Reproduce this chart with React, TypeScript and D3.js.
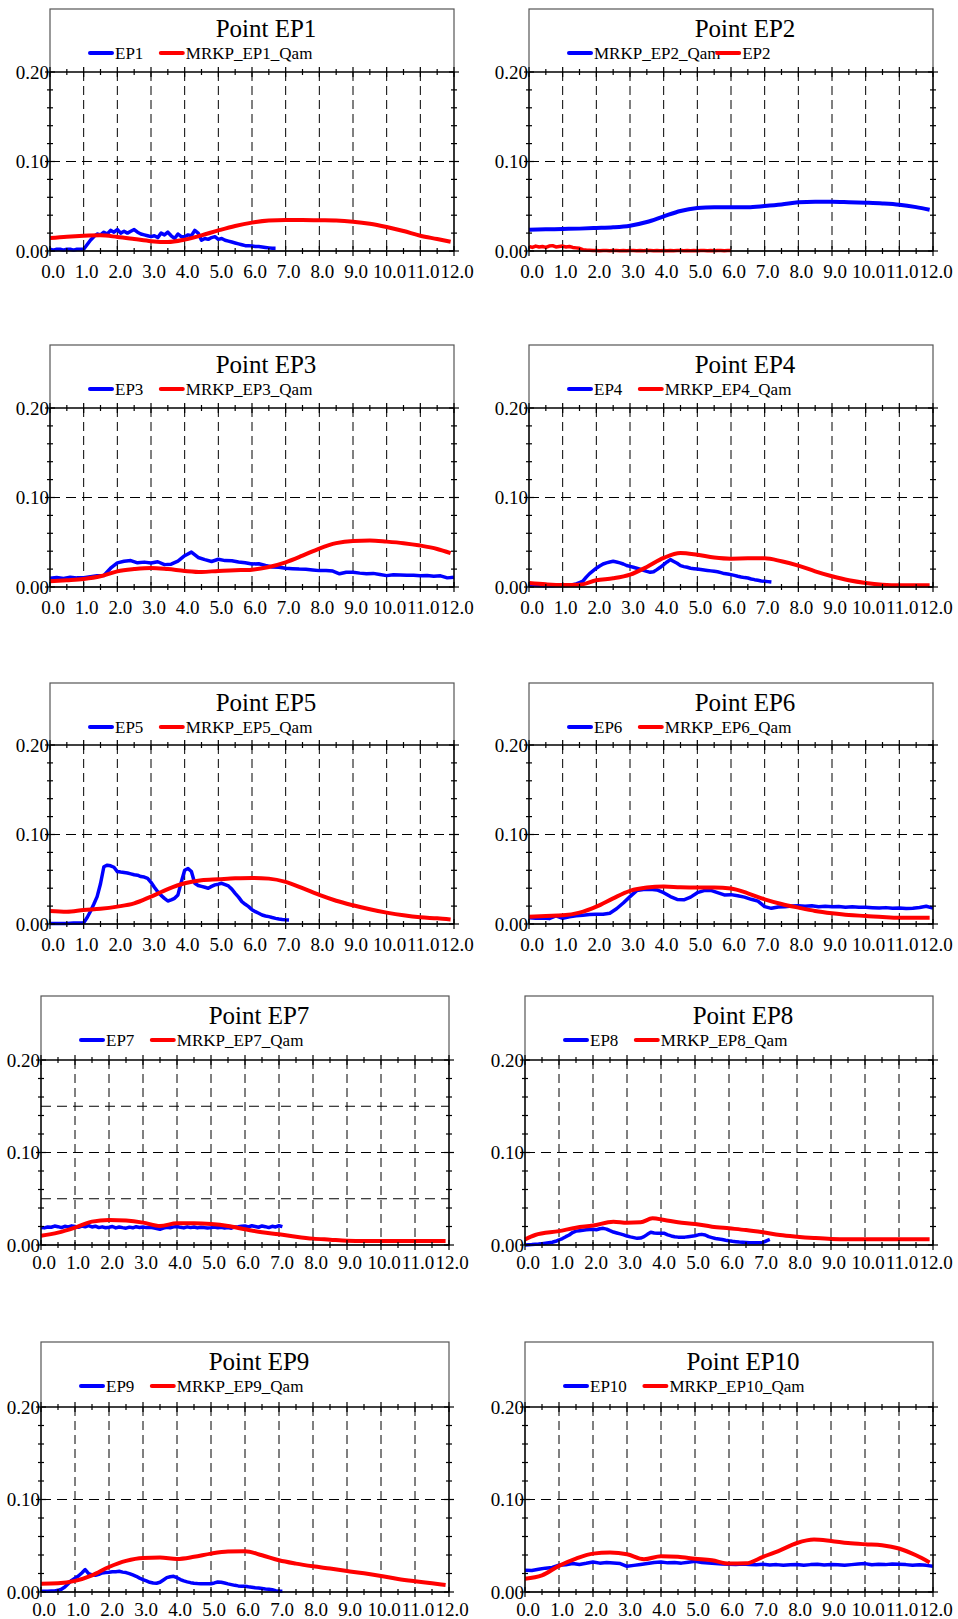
import React from 'react';
import * as d3 from 'd3';

// x grids of the series
const FINE_STEP = 0.1;
const COARSE_STEP = 0.2;
const SMOOTH_X = [0, 0.5, 1, 1.5, 2, 2.5, 3, 3.5, 4, 4.5, 5, 5.5, 6, 6.5, 7, 7.5, 8, 8.5, 9, 9.5, 10, 10.5, 11, 11.5, 11.9];

const X_LABELS = ['0.0', '1.0', '2.0', '3.0', '4.0', '5.0', '6.0', '7.0', '8.0', '9.0', '10.0', '11.0', '12.0'];
const Y_LABELS = ['0.00', '0.10', '0.20'];

// EP1
const EP1_MEAS = [
  0.002, 0.001, 0.002, 0.002, 0.001, 0.002, 0.002, 0.001, 0.002, 0.002,
  0.002, 0.007, 0.012, 0.016, 0.019, 0.018, 0.021, 0.019, 0.023, 0.021,
  0.024, 0.02, 0.022, 0.02, 0.022, 0.024, 0.021, 0.019, 0.018, 0.017,
  0.016, 0.017, 0.015, 0.02, 0.018, 0.021, 0.017, 0.014, 0.019, 0.016,
  0.016, 0.018, 0.017, 0.023, 0.02, 0.012, 0.014, 0.013, 0.015, 0.016,
  0.013, 0.014, 0.012, 0.011, 0.01, 0.009, 0.008, 0.007, 0.006, 0.006,
  0.0055, 0.005, 0.005, 0.0045, 0.004, 0.0035, 0.003, 0.003,
];
const EP1_QAM = [0.0145, 0.016, 0.017, 0.0175, 0.0157, 0.0134, 0.011, 0.01, 0.0127, 0.0175, 0.023, 0.028, 0.0317, 0.034, 0.0346, 0.0346, 0.0343, 0.034, 0.0328, 0.0305, 0.0268, 0.0223, 0.017, 0.0134, 0.0104];

// EP2 (legend order swapped in the source)
const EP2_QAM = [0.0238, 0.0242, 0.0246, 0.025, 0.0257, 0.0265, 0.0283, 0.0324, 0.0387, 0.0447, 0.048, 0.049, 0.049, 0.049, 0.0503, 0.052, 0.0544, 0.0551, 0.0551, 0.0546, 0.054, 0.0532, 0.0518, 0.049, 0.046];
const EP2_MEAS = [
  0.005, 0.004, 0.0055, 0.0045, 0.005, 0.004, 0.0055, 0.006, 0.0045, 0.005,
  0.0055, 0.0045, 0.005, 0.004, 0.0035, 0.003, 0.0015, 0.001, 0.0008, 0.0006,
  0.0005, 0.0004, 0.0006, 0.0005, 0.0003, 0.0005, 0.0006, 0.0004, 0.0005, 0.0003,
  0.0005, 0.0006, 0.0004, 0.0005, 0.0003, 0.0005, 0.0006, 0.0004, 0.0005, 0.0004,
  0.0005, 0.0003, 0.0006, 0.0004, 0.0005, 0.0005, 0.0003, 0.0006, 0.0004, 0.0005,
  0.0004, 0.0006, 0.0005, 0.0003, 0.0005, 0.0004, 0.0006, 0.0005, 0.0004, 0.0005,
  0.0005,
];

// EP3
const EP3_MEAS = [
  0.0097, 0.0105, 0.0095, 0.0108, 0.0102, 0.0104, 0.0115, 0.0125, 0.0128, 0.021,
  0.027, 0.0287, 0.0295, 0.027, 0.0278, 0.0268, 0.0282, 0.025, 0.0255, 0.029,
  0.035, 0.039, 0.033, 0.0306, 0.0285, 0.031, 0.0295, 0.0293, 0.028, 0.027,
  0.0257, 0.026, 0.024, 0.0224, 0.022, 0.021, 0.0205, 0.02, 0.0198, 0.019,
  0.0183, 0.0185, 0.0178, 0.0148, 0.0165, 0.0164, 0.0155, 0.0148, 0.0152, 0.014,
  0.0127, 0.0138, 0.0135, 0.013, 0.0132, 0.0127, 0.0128, 0.012, 0.0125, 0.0102,
  0.011,
];
const EP3_QAM = [0.0063, 0.0075, 0.009, 0.012, 0.0175, 0.02, 0.0213, 0.02, 0.018, 0.0168, 0.018, 0.0187, 0.0194, 0.0224, 0.0276, 0.035, 0.043, 0.049, 0.0515, 0.0519, 0.0507, 0.049, 0.0463, 0.0425, 0.0378];

// EP4
const EP4_MEAS = [
  0.0026, 0.0022, 0.002, 0.0018, 0.0016, 0.0015, 0.0015, 0.0015, 0.0016, 0.0016,
  0.0016, 0.0018, 0.002, 0.0025, 0.0035, 0.005, 0.0065, 0.011, 0.015, 0.018,
  0.021, 0.0235, 0.0257, 0.027, 0.028, 0.0287, 0.028, 0.027, 0.0257, 0.024,
  0.023, 0.022, 0.021, 0.02, 0.0187, 0.0175, 0.0164, 0.017, 0.0194, 0.022,
  0.025, 0.028, 0.0306, 0.0285, 0.0265, 0.0239, 0.0228, 0.022, 0.021, 0.0205,
  0.02, 0.0195, 0.019, 0.0185, 0.018, 0.0175, 0.017, 0.016, 0.015, 0.0145,
  0.0138, 0.013, 0.012, 0.0112, 0.0105, 0.01, 0.009, 0.0082, 0.0075, 0.0068,
  0.0063, 0.006, 0.0056,
];
const EP4_QAM = [0.0045, 0.003, 0.0022, 0.0026, 0.0075, 0.0097, 0.0138, 0.0224, 0.0325, 0.038, 0.036, 0.033, 0.0317, 0.032, 0.032, 0.0287, 0.0239, 0.0175, 0.012, 0.0075, 0.0045, 0.0026, 0.0019, 0.0019, 0.0019];

// EP5
const EP5_MEAS = [
  0.0005, 0.0005, 0.0006, 0.0005, 0.0005, 0.0006, 0.0008, 0.001, 0.001, 0.0012,
  0.0015, 0.007, 0.014, 0.022, 0.0306, 0.045, 0.064, 0.0657, 0.065, 0.0634,
  0.0586, 0.058, 0.0575, 0.057, 0.056, 0.055, 0.0545, 0.053, 0.0525, 0.051,
  0.0466, 0.041, 0.036, 0.032, 0.0287, 0.0257, 0.027, 0.0287, 0.0325, 0.047,
  0.06, 0.062, 0.0586, 0.0455, 0.043, 0.042, 0.041, 0.04, 0.042, 0.0437,
  0.0445, 0.0455, 0.044, 0.0425, 0.039, 0.0343, 0.03, 0.025, 0.022, 0.0194,
  0.016, 0.0138, 0.012, 0.01, 0.009, 0.0082, 0.0072, 0.0063, 0.0055, 0.005,
  0.0047, 0.0045,
];
const EP5_QAM = [0.0146, 0.0138, 0.0157, 0.017, 0.0194, 0.023, 0.0306, 0.039, 0.0455, 0.049, 0.05, 0.051, 0.0515, 0.0507, 0.047, 0.04, 0.0325, 0.026, 0.0209, 0.0164, 0.0127, 0.0097, 0.0075, 0.0063, 0.005];

// EP6
const EP6_MEAS = [
  0.007, 0.0065, 0.0068, 0.006, 0.009, 0.0063, 0.008, 0.0092, 0.0098, 0.0105,
  0.011, 0.0108, 0.012, 0.017, 0.0235, 0.0306, 0.0373, 0.0385, 0.0388, 0.038,
  0.035, 0.0306, 0.0275, 0.027, 0.03, 0.035, 0.0373, 0.0375, 0.035, 0.0325,
  0.0328, 0.0315, 0.03, 0.0276, 0.0255, 0.0194, 0.0175, 0.019, 0.0194, 0.02,
  0.0205, 0.0198, 0.0204, 0.0192, 0.0199, 0.0194, 0.0196, 0.0188, 0.0193, 0.0187,
  0.0187, 0.0182, 0.0178, 0.0183, 0.0175, 0.0178, 0.0172, 0.0176, 0.0185, 0.0198,
  0.0178,
];
const EP6_QAM = [0.0082, 0.009, 0.0097, 0.0127, 0.0194, 0.0287, 0.037, 0.0407, 0.0418, 0.041, 0.0407, 0.0407, 0.0396, 0.0343, 0.0276, 0.0224, 0.0183, 0.0146, 0.012, 0.01, 0.009, 0.0078, 0.007, 0.007, 0.007];

// EP7
const EP7_MEAS = [
  0.019, 0.0185, 0.0195, 0.0192, 0.0205, 0.0198, 0.0188, 0.0202, 0.0196, 0.0207,
  0.02, 0.0192, 0.0205, 0.0197, 0.021, 0.0195, 0.0203, 0.0188, 0.0196, 0.0186,
  0.0192, 0.02, 0.0185, 0.0195, 0.0188, 0.0182, 0.0193, 0.0186, 0.0198, 0.019,
  0.0195, 0.0188, 0.0192, 0.0185, 0.0178, 0.017, 0.0182, 0.0192, 0.0186, 0.0196,
  0.02, 0.0191, 0.0185, 0.0196, 0.0188, 0.0194, 0.0185, 0.0192, 0.0188, 0.0183,
  0.0188, 0.0195, 0.0186, 0.0192, 0.0184, 0.019, 0.0182, 0.0195, 0.0198, 0.0203,
  0.0206, 0.0196, 0.0208, 0.02, 0.0192, 0.0206, 0.0198, 0.0188, 0.0202, 0.0195,
  0.0208, 0.0198,
];
const EP7_QAM = [0.0101, 0.0134, 0.0188, 0.0253, 0.027, 0.0264, 0.0242, 0.0206, 0.0235, 0.0235, 0.0227, 0.0206, 0.017, 0.0137, 0.0116, 0.009, 0.0069, 0.0058, 0.0047, 0.0043, 0.0043, 0.0043, 0.0043, 0.0043, 0.0043];

// EP8
const EP8_MEAS = [
  0, 0.0003, 0.0005, 0.0008, 0.001, 0.0015, 0.002, 0.0025, 0.003, 0.004,
  0.0054, 0.007, 0.009, 0.0108, 0.0135, 0.015, 0.0155, 0.016, 0.0165, 0.0168,
  0.017, 0.0165, 0.0175, 0.018, 0.0172, 0.0155, 0.014, 0.013, 0.012, 0.011,
  0.0097, 0.0088, 0.008, 0.0072, 0.0075, 0.009, 0.0115, 0.0137, 0.013, 0.0126,
  0.0128, 0.0126, 0.011, 0.0098, 0.009, 0.0085, 0.0083, 0.0085, 0.009, 0.0095,
  0.01, 0.011, 0.0115, 0.0108, 0.009, 0.008, 0.007, 0.0065, 0.006, 0.0052,
  0.0045, 0.004, 0.0036, 0.0032, 0.003, 0.0028, 0.0025, 0.0025, 0.0024, 0.0025,
  0.0028, 0.0045, 0.006,
];
const EP8_QAM_X = [0, 0.3, 1, 1.5, 2, 2.6, 3, 3.4, 3.75, 4.1, 4.5, 5, 5.5, 6, 6.5, 7, 7.5, 8, 8.5, 9, 9.5, 10.5, 11.9];
const EP8_QAM = [0.006, 0.0108, 0.015, 0.0187, 0.021, 0.0252, 0.024, 0.0245, 0.0288, 0.027, 0.0245, 0.0227, 0.0198, 0.018, 0.0162, 0.0137, 0.0108, 0.009, 0.0076, 0.0065, 0.0061, 0.0061, 0.0061];

// EP9
const EP9_MEAS = [
  0.0007, 0.0007, 0.0008, 0.001, 0.0012, 0.0018, 0.003, 0.0054, 0.009, 0.0126,
  0.015, 0.0173, 0.0206, 0.0242, 0.0199, 0.0185, 0.018, 0.019, 0.0206, 0.021,
  0.0213, 0.0218, 0.022, 0.0224, 0.0215, 0.021, 0.0199, 0.0185, 0.017, 0.015,
  0.0134, 0.012, 0.0105, 0.0097, 0.0095, 0.0105, 0.013, 0.0155, 0.0165, 0.017,
  0.0155, 0.0134, 0.012, 0.011, 0.0101, 0.0095, 0.0092, 0.009, 0.009, 0.009,
  0.009, 0.0098, 0.0108, 0.0105, 0.0097, 0.0088, 0.008, 0.0072, 0.0066, 0.0063,
  0.0061, 0.0056, 0.0052, 0.0047, 0.0043, 0.0038, 0.0033, 0.003, 0.0025, 0.0015,
  0.0007, 0.0007,
];
const EP9_QAM = [0.009, 0.0094, 0.012, 0.018, 0.027, 0.0336, 0.0368, 0.0372, 0.0357, 0.038, 0.0415, 0.0437, 0.044, 0.0397, 0.0343, 0.0307, 0.0278, 0.0253, 0.0227, 0.0202, 0.0173, 0.0141, 0.0116, 0.0094, 0.0076];

// EP10
const EP10_MEAS = [
  0.0235, 0.0232, 0.0245, 0.0258, 0.0265, 0.0289, 0.0295, 0.0308, 0.0298, 0.031,
  0.0325, 0.0312, 0.032, 0.0314, 0.0307, 0.0278, 0.0288, 0.0298, 0.0308, 0.0318,
  0.0325, 0.0315, 0.032, 0.0312, 0.0322, 0.0332, 0.032, 0.0314, 0.0308, 0.0302,
  0.03, 0.0296, 0.0302, 0.0298, 0.0295, 0.03, 0.0292, 0.0296, 0.0289, 0.0294,
  0.0298, 0.029, 0.0296, 0.03, 0.0292, 0.0298, 0.0294, 0.0288, 0.0296, 0.0302,
  0.0307, 0.0295, 0.0299, 0.0296, 0.0302, 0.03, 0.0296, 0.029, 0.0294, 0.0288,
  0.0278,
];
const EP10_QAM = [0.0144, 0.018, 0.0282, 0.036, 0.0415, 0.0426, 0.0408, 0.0354, 0.0386, 0.038, 0.036, 0.0343, 0.0307, 0.031, 0.038, 0.0451, 0.053, 0.0567, 0.0552, 0.053, 0.0516, 0.0505, 0.047, 0.0397, 0.032];

const BLUE = '#0000ff';
const RED = '#ff0000';

type Series = { name: string; color: string; xs: number[]; ys: number[]; smooth: boolean; width: number };

const stepX = (ys: number[], step: number) => ys.map((_, i) => Math.round(i * step * 100) / 100);
const meas = (name: string, color: string, ys: number[], step: number): Series => ({ name, color, xs: stepX(ys, step), ys, smooth: false, width: 3.5 });
const qam = (name: string, color: string, ys: number[], xs = SMOOTH_X): Series => ({ name, color, xs, ys, smooth: true, width: 4 });

// panel frames: [plot left, plot right, box top, y of 0.20, y of 0.00, label offset]
const FRAMES: Record<string, number[]> = {
  EP1: [50, 454, 9, 72, 251, 27],
  EP2: [529, 933, 9, 72, 251, 27],
  EP3: [50, 454, 345, 408, 587, 27],
  EP4: [529, 933, 345, 408, 587, 27],
  EP5: [50, 454, 683, 745, 924, 27],
  EP6: [529, 933, 683, 745, 924, 27],
  EP7: [41, 449, 996, 1060, 1245, 24],
  EP8: [525, 933, 996, 1060, 1245, 24],
  EP9: [41, 449, 1342, 1407, 1592, 24],
  EP10: [525, 933, 1342, 1407, 1592, 24],
};

const PANELS: { id: string; series: Series[]; hGrid: number[] }[] = [
  { id: 'EP1', series: [meas('EP1', BLUE, EP1_MEAS, FINE_STEP), qam('MRKP_EP1_Qam', RED, EP1_QAM)], hGrid: [0.1] },
  { id: 'EP2', series: [qam('MRKP_EP2_Qam', BLUE, EP2_QAM), meas('EP2', RED, EP2_MEAS, FINE_STEP)], hGrid: [0.1] },
  { id: 'EP3', series: [meas('EP3', BLUE, EP3_MEAS, COARSE_STEP), qam('MRKP_EP3_Qam', RED, EP3_QAM)], hGrid: [0.1] },
  { id: 'EP4', series: [meas('EP4', BLUE, EP4_MEAS, FINE_STEP), qam('MRKP_EP4_Qam', RED, EP4_QAM)], hGrid: [0.1] },
  { id: 'EP5', series: [meas('EP5', BLUE, EP5_MEAS, FINE_STEP), qam('MRKP_EP5_Qam', RED, EP5_QAM)], hGrid: [0.1] },
  { id: 'EP6', series: [meas('EP6', BLUE, EP6_MEAS, COARSE_STEP), qam('MRKP_EP6_Qam', RED, EP6_QAM)], hGrid: [0.1] },
  { id: 'EP7', series: [meas('EP7', BLUE, EP7_MEAS, FINE_STEP), qam('MRKP_EP7_Qam', RED, EP7_QAM)], hGrid: [0.05, 0.1, 0.15] },
  { id: 'EP8', series: [meas('EP8', BLUE, EP8_MEAS, FINE_STEP), qam('MRKP_EP8_Qam', RED, EP8_QAM, EP8_QAM_X)], hGrid: [0.1] },
  { id: 'EP9', series: [meas('EP9', BLUE, EP9_MEAS, FINE_STEP), qam('MRKP_EP9_Qam', RED, EP9_QAM)], hGrid: [0.1] },
  { id: 'EP10', series: [meas('EP10', BLUE, EP10_MEAS, COARSE_STEP), qam('MRKP_EP10_Qam', RED, EP10_QAM)], hGrid: [0.1] },
];

const FONT = '"Liberation Serif", "Times New Roman", serif';

const Panel = ({ id, series, hGrid }: { id: string; series: Series[]; hGrid: number[] }) => {
  const [x0, x1, boxTop, yTop, yBot, labelOff] = FRAMES[id];
  const xScale = d3.scaleLinear().domain([0, 12]).range([x0, x1]);
  const yScale = d3.scaleLinear().domain([0, 0.2]).range([yBot, yTop]);

  const xMinor = d3.range(0, 12.01, 0.5);
  const yMinor = d3.range(0, 0.2001, 0.02);
  const xGrid = d3.range(1, 12);

  // legend layout
  const legX0 = x0 + 40;
  const legY = boxTop + 44;
  const label0Start = legX0 + 25;
  const legX1 = label0Start + 20 + 8.6 * series[0].name.length;

  return (
    <g>
      {/* frame */}
      <rect x={x0} y={boxTop} width={x1 - x0} height={yBot - boxTop} fill="none" stroke="#555" strokeWidth={1.2} />
      <text x={(x0 + x1) / 2 + 14} y={boxTop + 28} textAnchor="middle" fontSize={25} fontFamily={FONT}>
        {`Point ${id}`}
      </text>
      {series.map((s, i) => {
        const sx = i === 0 ? legX0 : legX1;
        return (
          <g key={s.name}>
            <line x1={sx} x2={sx + 22} y1={legY} y2={legY} stroke={s.color} strokeWidth={4} strokeLinecap="round" />
            <text x={sx + 25} y={legY} dy="0.35em" fontSize={17} fontFamily={FONT}>
              {s.name}
            </text>
          </g>
        );
      })}

      {/* grid */}
      {xGrid.map((v) => (
        <line key={`gx${v}`} x1={xScale(v)} x2={xScale(v)} y1={yTop} y2={yBot} stroke="#000" strokeWidth={1} strokeDasharray="9,5" />
      ))}
      {hGrid.map((v) => (
        <line key={`gy${v}`} x1={x0} x2={x1} y1={yScale(v)} y2={yScale(v)} stroke="#000" strokeWidth={1} strokeDasharray="10,6" />
      ))}

      {/* data */}
      {series.map((s) => {
        const pts = s.xs.map((x, i) => [x, s.ys[i]] as [number, number]);
        const path = d3
          .line<[number, number]>()
          .x((d) => xScale(d[0]))
          .y((d) => yScale(d[1]))
          .curve(s.smooth ? d3.curveMonotoneX : d3.curveLinear)(pts);
        return <path key={s.name} d={path || ''} fill="none" stroke={s.color} strokeWidth={s.width} strokeLinejoin="round" />;
      })}

      {/* axes */}
      {[yTop, yBot].map((yy) => (
        <g key={`ax${yy}`}>
          <line x1={x0} x2={x1} y1={yy} y2={yy} stroke="#000" strokeWidth={1.5} />
          {xMinor.map((v, i) => {
            const len = i % 2 === 0 ? 5 : 3;
            return <line key={v} x1={xScale(v)} x2={xScale(v)} y1={yy - len} y2={yy + len} stroke="#000" strokeWidth={1.2} />;
          })}
        </g>
      ))}
      {[x0, x1].map((xx) => (
        <g key={`ay${xx}`}>
          <line x1={xx} x2={xx} y1={yTop} y2={yBot} stroke="#000" strokeWidth={1.3} />
          {yMinor.map((v, i) => {
            const len = i % 5 === 0 ? 5 : 3;
            return <line key={v} x1={xx - len} x2={xx + len} y1={yScale(v)} y2={yScale(v)} stroke="#000" strokeWidth={1.2} />;
          })}
        </g>
      ))}

      {/* tick labels */}
      {X_LABELS.map((t) => (
        <text key={`xl${t}`} x={xScale(+t) + 3} y={yBot + labelOff} textAnchor="middle" fontSize={19} fontFamily={FONT}>
          {t}
        </text>
      ))}
      {Y_LABELS.map((t) => (
        <text key={`yl${t}`} x={x0 - 1} y={yScale(+t)} dy="0.35em" textAnchor="end" fontSize={19} fontFamily={FONT}>
          {t}
        </text>
      ))}
    </g>
  );
};

export default function App() {
  return (
    <svg width={958} height={1619} style={{ position: 'absolute', left: 0, top: 0, background: '#fff' }}>
      <rect width={958} height={1619} fill="#fff" />
      {PANELS.map((p) => (
        <Panel key={p.id} {...p} />
      ))}
    </svg>
  );
}
